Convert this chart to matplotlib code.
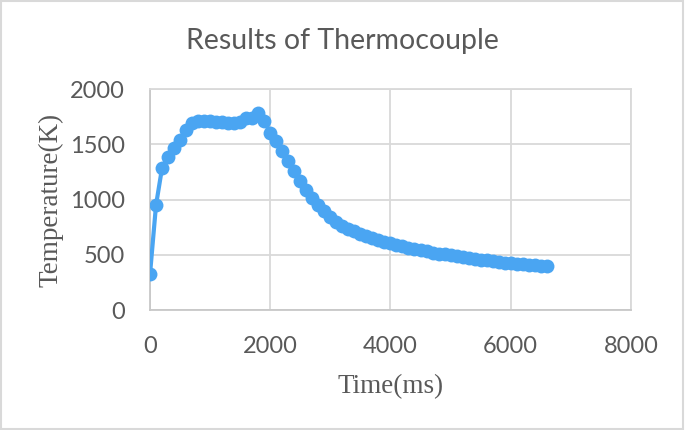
import matplotlib.pyplot as plt
from matplotlib.patches import Rectangle

time_ms = [0, 100, 200, 300, 400, 500, 600, 700, 800, 900,
           1000, 1100, 1200, 1300, 1400, 1500, 1600, 1700, 1800, 1900,
           2000, 2100, 2200, 2300, 2400, 2500, 2600, 2700, 2800, 2900,
           3000, 3100, 3200, 3300, 3400, 3500, 3600, 3700, 3800, 3900,
           4000, 4100, 4200, 4300, 4400, 4500, 4600, 4700, 4800, 4900,
           5000, 5100, 5200, 5300, 5400, 5500, 5600, 5700, 5800, 5900,
           6000, 6100, 6200, 6300, 6400, 6500, 6600]
temp_K = [325, 950, 1285, 1385, 1465, 1535, 1625, 1690, 1715, 1713,
          1708, 1703, 1698, 1692, 1690, 1705, 1735, 1740, 1782, 1710,
          1605, 1530, 1442, 1345, 1255, 1170, 1090, 1012, 950, 892,
          840, 795, 760, 735, 712, 690, 670, 652, 635, 620,
          606, 592, 578, 565, 552, 541, 530, 520, 511, 503,
          495, 487, 479, 471, 464, 457, 450, 443, 436, 430,
          424, 419, 414, 409, 404, 400, 396]

xticks = [0, 2000, 4000, 6000, 8000]
yticks = [0, 500, 1000, 1500, 2000]

grey = '#595959'
gridc = '#d9d9d9'
blue = '#4aa5f2'

fig = plt.figure(figsize=(6.85, 4.3), dpi=100)
ax = fig.add_axes([0.219, 0.279, 0.702, 0.514])

ax.plot(time_ms, temp_K, color=blue, lw=3, marker='o', ms=10,
        markeredgewidth=0, zorder=3)

ax.set_xlim(0, 8000)
ax.set_ylim(0, 2000)
ax.set_xticks(xticks)
ax.set_yticks(yticks)
ax.grid(True, color=gridc, lw=1.3)
ax.set_axisbelow(True)
for s in ax.spines.values():
    s.set_color(gridc)
    s.set_linewidth(1.3)
ax.spines['left'].set_color('#c8c8c8')
ax.spines['bottom'].set_color('#c8c8c8')
ax.tick_params(length=0, labelsize=17, labelcolor=grey)
ax.tick_params(axis='x', pad=19)
ax.tick_params(axis='y', pad=18)
for lab in ax.get_xticklabels() + ax.get_yticklabels():
    lab.set_family('Lato')

ax.set_xlabel('Time(ms)', family='Liberation Serif', fontsize=19.5, color=grey, labelpad=12)
ax.set_ylabel('Temperature(K)', family='Liberation Serif', fontsize=19.5, color=grey, labelpad=5)
fig.text(0.5, 0.905, 'Results of Thermocouple', ha='center', va='center',
         family='Lato', fontsize=20.5, color=grey)

fig.patches.append(Rectangle((0.002, 0.003), 0.995, 0.994, transform=fig.transFigure,
                             fill=False, edgecolor=gridc, lw=1.5))

fig.savefig('out.png', dpi=100)
